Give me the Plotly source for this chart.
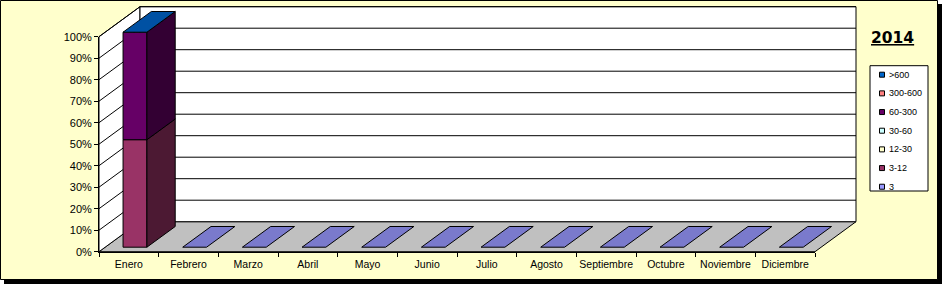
import plotly.graph_objects as go

# ---------------- data ----------------
MONTHS = ["Enero", "Febrero", "Marzo", "Abril", "Mayo", "Junio", "Julio",
          "Agosto", "Septiembre", "Octubre", "Noviembre", "Diciembre"]
SERIES = ["3", "3-12", "12-30", "30-60", "60-300", "300-600", ">600"]
V_3       = [0, 0, 0, 0, 0, 0, 0, 0, 0, 0, 0, 0]
V_3_12    = [1, 0, 0, 0, 0, 0, 0, 0, 0, 0, 0, 0]
V_12_30   = [0, 0, 0, 0, 0, 0, 0, 0, 0, 0, 0, 0]
V_30_60   = [0, 0, 0, 0, 0, 0, 0, 0, 0, 0, 0, 0]
V_60_300  = [1, 0, 0, 0, 0, 0, 0, 0, 0, 0, 0, 0]
V_300_600 = [0, 0, 0, 0, 0, 0, 0, 0, 0, 0, 0, 0]
V_600     = [0, 0, 0, 0, 0, 0, 0, 0, 0, 0, 0, 0]
VALUES = [V_3, V_3_12, V_12_30, V_30_60, V_60_300, V_300_600, V_600]
Y_TICKS = [0, 10, 20, 30, 40, 50, 60, 70, 80, 90, 100]
Y_TICKTEXT = [f"{t}%" for t in Y_TICKS]
TITLE = "2014"

# ---------------- style ----------------
COLORS = ["#9999FF", "#993366", "#FFFFCC", "#CCFFFF", "#660066", "#FF8080", "#0066CC"]
W, H = 942, 284
X0_PX, X1_PX = 99, 815        # front category axis
Y0_PX, Y1_PX = 251.7, 36.7    # front value axis (0% / 100%)
N = len(MONTHS)
S = (X1_PX - X0_PX) / N       # px per category
T = (Y0_PX - Y1_PX) / 100.0   # px per percent
DX = 41 / S                   # depth offset in category units
DY = 30 / T                   # depth offset in percent units
F0, FB = 0.15, 0.69           # bar depth start / length (fraction of depth)
BAR_W = 0.40
FONT = "Liberation Sans, Arial, sans-serif"


def shade(hexcol, f):
    h = hexcol.lstrip("#")
    r, g, b = (int(h[i:i + 2], 16) for i in (0, 2, 4))
    return "#%02X%02X%02X" % (int(r * f), int(g * f), int(b * f))


fig = go.Figure()


def poly(xs, ys, fill, width=1):
    fig.add_trace(go.Scatter(
        x=list(xs) + [xs[0]], y=list(ys) + [ys[0]], mode="lines",
        fill="toself", fillcolor=fill, line=dict(color="black", width=width),
        xaxis="x", yaxis="y", showlegend=False, hoverinfo="skip"))


def line(xs, ys):
    fig.add_trace(go.Scatter(
        x=xs, y=ys, mode="lines", line=dict(color="black", width=1),
        xaxis="x", yaxis="y", showlegend=False, hoverinfo="skip"))


L = -0.5               # left edge of category axis
R = L + N              # right edge
# floor
poly([L, R, R + DX, L + DX], [0, 0, DY, DY], "#C0C0C0")
# left side wall
poly([L, L, L + DX, L + DX], [0, 100, 100 + DY, DY], "white")
# back wall
poly([L + DX, R + DX, R + DX, L + DX], [DY, DY, 100 + DY, 100 + DY], "white")
# gridlines
for t in Y_TICKS[1:]:
    line([L, L + DX, R + DX], [t, t + DY, t + DY])

# bars (100% stacked, 3D)
for i in range(N):
    total = sum(v[i] for v in VALUES)
    c = i + F0 * DX
    xl, xr = c - BAR_W / 2, c + BAR_W / 2
    y0 = F0 * DY
    bx, by = FB * DX, FB * DY
    base = 0.0
    for s, v in enumerate(VALUES):
        if total == 0 or v[i] == 0:
            continue
        top = base + 100.0 * v[i] / total
        poly([xl, xr, xr, xl], [base + y0, base + y0, top + y0, top + y0], COLORS[s])
        poly([xr, xr + bx, xr + bx, xr],
             [base + y0, base + y0 + by, top + y0 + by, top + y0], shade(COLORS[s], 0.5))
        base = top
    top_col = COLORS[-1] if total > 0 else COLORS[0]
    poly([xl, xr, xr + bx, xl + bx], [base + y0, base + y0, base + y0 + by, base + y0 + by],
         shade(top_col, 0.8))

# dummy trace for the visible front axes
fig.add_trace(go.Scatter(x=MONTHS, y=[None] * N, xaxis="x2", yaxis="y2",
                         mode="lines", showlegend=False, hoverinfo="skip"))

# ---------------- background, border, shadow ----------------
shapes = [
    dict(type="rect", xref="paper", yref="paper", x0=4 / W, x1=1, y0=0, y1=1 - 4 / H,
         fillcolor="black", line=dict(width=0), layer="below"),
    dict(type="rect", xref="paper", yref="paper", x0=0.5 / W, x1=937.5 / W,
         y0=1 - 279.5 / H, y1=1 - 0.5 / H, fillcolor="#FFFFCC",
         line=dict(color="black", width=1), layer="below"),
]

# ---------------- manual legend ----------------
LG_X0, LG_X1, LG_Y0, LG_Y1 = 870, 928, 65.7, 191
shapes.append(dict(type="rect", xref="paper", yref="paper", x0=LG_X0 / W, x1=LG_X1 / W,
                   y0=1 - LG_Y1 / H, y1=1 - LG_Y0 / H, fillcolor="white",
                   line=dict(color="black", width=1), layer="above"))
annotations = []
row_y0, row_dy = 74.7, 18.67
for k, idx in enumerate(range(len(SERIES) - 1, -1, -1)):
    yc = row_y0 + k * row_dy
    shapes.append(dict(type="rect", xref="paper", yref="paper",
                       x0=879.5 / W, x1=884.5 / W, y0=1 - (yc + 2.5) / H, y1=1 - (yc - 2.5) / H,
                       fillcolor=COLORS[idx], line=dict(color="black", width=1), layer="above"))
    annotations.append(dict(text=SERIES[idx], xref="paper", yref="paper", x=886.5 / W,
                            y=1 - yc / H, xanchor="left", yanchor="middle", showarrow=False,
                            font=dict(family=FONT, size=9, color="black")))
annotations.append(dict(text=f"<b><u>{TITLE}</u></b>", xref="paper", yref="paper",
                        x=892 / W, y=1 - 38.5 / H, xanchor="center", yanchor="middle",
                        showarrow=False,
                        font=dict(family="DejaVu Sans, sans-serif", size=15.5, color="black")))

fig.update_layout(
    width=W, height=H, margin=dict(l=0, r=0, t=0, b=0, pad=0, autoexpand=False),
    paper_bgcolor="white", plot_bgcolor="rgba(0,0,0,0)",
    showlegend=False, shapes=shapes, annotations=annotations,
    xaxis=dict(domain=[0, 1], range=[L - X0_PX / S, L + (W - X0_PX) / S],
               visible=False, fixedrange=True, anchor="y", automargin=False),
    yaxis=dict(domain=[0, 1], range=[(Y0_PX - H) / T, Y0_PX / T],
               visible=False, fixedrange=True, anchor="x", automargin=False),
    xaxis2=dict(domain=[X0_PX / W, X1_PX / W], anchor="y2", type="category",
                categoryorder="array", categoryarray=MONTHS, range=[-0.5, N - 0.5],
                tickson="boundaries", ticks="outside", ticklen=4, tickcolor="black",
                tickangle=0, automargin=False, ticklabelstandoff=3,
                showline=True, linecolor="black", linewidth=1, showgrid=False,
                zeroline=False, fixedrange=True,
                tickfont=dict(family=FONT, size=10.5, color="black")),
    yaxis2=dict(domain=[1 - Y0_PX / H, 1 - Y1_PX / H], anchor="x2", range=[0, 100],
                tickvals=Y_TICKS, ticktext=Y_TICKTEXT, ticks="outside", ticklen=4,
                tickcolor="black", showline=True, linecolor="black", linewidth=1,
                showgrid=False, zeroline=False, fixedrange=True, automargin=False,
                tickfont=dict(family=FONT, size=11, color="black")),
)

fig.write_html("out.html")
